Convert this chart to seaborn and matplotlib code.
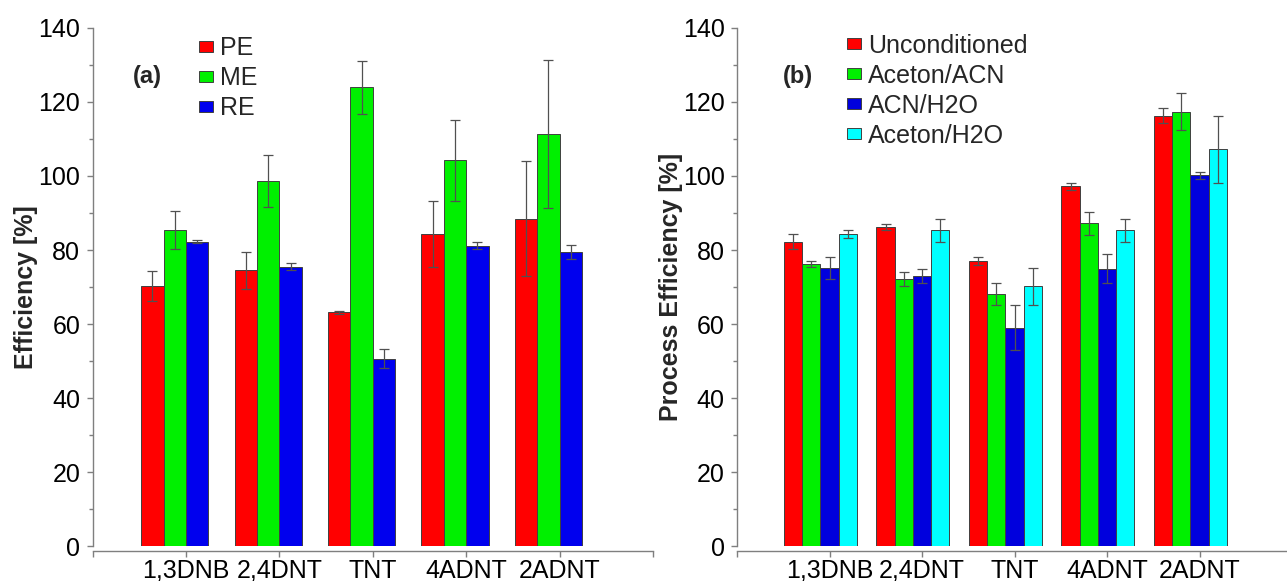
import numpy as np
import pandas as pd
import matplotlib
matplotlib.use("Agg")
import matplotlib.pyplot as plt
from matplotlib.ticker import MultipleLocator
import seaborn as sns

# Data
compounds = ["1,3DNB", "2,4DNT", "TNT", "4ADNT", "2ADNT"]

# (a) matrix effects
eff_series = ["PE", "ME", "RE"]
pe = [70.3, 74.5, 63.2, 84.3, 88.5]
pe_err = [4.0, 5.0, 0.4, 9.0, 15.5]
me = [85.5, 98.7, 123.9, 104.2, 111.3]
me_err = [5.1, 7.0, 7.1, 11.0, 20.0]
re = [82.3, 75.5, 50.7, 81.2, 79.5]
re_err = [0.5, 1.0, 2.5, 0.9, 2.0]

# (b) conditioning
cond_series = ["Unconditioned", "Aceton/ACN", "ACN/H2O", "Aceton/H2O"]
uncond = [82.3, 86.3, 77.0, 97.2, 116.3]
uncond_err = [2.0, 0.8, 1.0, 1.0, 2.0]
aceton_acn = [76.2, 72.2, 68.2, 87.2, 117.3]
aceton_acn_err = [0.8, 2.0, 3.0, 3.0, 5.0]
acn_h2o = [75.2, 73.0, 59.1, 75.0, 100.2]
acn_h2o_err = [3.0, 2.0, 6.0, 4.0, 1.0]
aceton_h2o = [84.3, 85.3, 70.2, 85.3, 107.2]
aceton_h2o_err = [1.0, 3.0, 5.0, 3.0, 9.0]

colors_a = ["#ff0000", "#00f000", "#0000ee"]
colors_b = ["#ff0000", "#00f000", "#0000dd", "#00ffff"]


def long_df(series, values, errors):
    rows = []
    for s, vals, errs in zip(series, values, errors):
        for c, v, e in zip(compounds, vals, errs):
            rows.append({"compound": c, "series": s, "value": v, "err": e})
    return pd.DataFrame(rows)


df_a = long_df(eff_series, [pe, me, re], [pe_err, me_err, re_err])
df_b = long_df(cond_series, [uncond, aceton_acn, acn_h2o, aceton_h2o],
               [uncond_err, aceton_acn_err, acn_h2o_err, aceton_h2o_err])

sns.set_style("white")
plt.rcParams["font.family"] = ["Liberation Sans", "DejaVu Sans"]

fig = plt.figure(figsize=(12.87, 5.81), dpi=100)
ax_a = fig.add_axes([0.0720, 0.0594, 0.4354, 0.8928])
ax_b = fig.add_axes([0.5727, 0.0594, 0.4312, 0.8928])

spine_col = "#7f7f7f"


def draw_panel(ax, df, series, colors, width, ylabel, tag, tag_x, leg_x, leg_y):
    sns.barplot(
        data=df, x="compound", y="value", hue="series",
        order=compounds, hue_order=series, palette=colors,
        width=width, errorbar=None, edgecolor="#404040", linewidth=0.7,
        saturation=1, ax=ax
    )
    # error bars on each bar
    for cont, s in zip(ax.containers, series):
        errs = df[df["series"] == s].set_index("compound").loc[compounds, "err"].values
        xs = [b.get_x() + b.get_width() / 2 for b in cont]
        ys = [b.get_height() for b in cont]
        ax.errorbar(xs, ys, yerr=errs, fmt="none", ecolor="#505050",
                    elinewidth=0.9, capsize=3.5, capthick=0.9, zorder=5)

    handles, labels = ax.get_legend_handles_labels()
    if ax.get_legend() is not None:
        ax.get_legend().remove()
    ax.legend(handles, labels, loc="upper left", bbox_to_anchor=(leg_x, leg_y),
              frameon=False, fontsize=18, handlelength=0.55, handleheight=0.3,
              handletextpad=0.3, labelspacing=0.24, borderpad=0, borderaxespad=0)

    shift = width / len(series) / 2
    ax.set_xlim(-1 + shift, 5 + shift)
    ax.set_xticks(np.arange(-1, 6) + shift)
    ax.set_xticklabels([""] + compounds + [""])
    ax.set_ylim(0, 140)
    ax.yaxis.set_major_locator(MultipleLocator(20))
    ax.yaxis.set_minor_locator(MultipleLocator(10))

    ax.set_xlabel("")
    ax.set_ylabel(ylabel, fontsize=18, fontweight="bold")
    ax.yaxis.set_label_coords(-0.098, 0.5)

    for side in ["top", "right"]:
        ax.spines[side].set_visible(False)
    for side in ["left", "bottom"]:
        ax.spines[side].set_color(spine_col)
        ax.spines[side].set_linewidth(1.0)
    ax.spines["bottom"].set_position(("outward", 3))

    ax.tick_params(axis="both", which="major", direction="out", length=4,
                   width=1, color=spine_col, labelsize=18, labelcolor="black",
                   left=True, bottom=True)
    ax.tick_params(axis="y", which="major", pad=5)
    ax.tick_params(axis="x", which="major", pad=2)
    ax.tick_params(axis="y", which="minor", direction="out", length=3,
                   width=1, color=spine_col, left=True)

    ax.text(tag_x, 0.906, tag, transform=ax.transAxes, fontsize=17,
            fontweight="bold", ha="center", va="center")


draw_panel(ax_a, df_a, eff_series, colors_a, 0.72, "Efficiency [%]",
           "(a)", 0.097, 0.190, 0.984)
draw_panel(ax_b, df_b, cond_series, colors_b, 0.79, "Process Efficiency [%]",
           "(b)", 0.110, 0.198, 0.988)

fig.savefig("out.png", dpi=100)
